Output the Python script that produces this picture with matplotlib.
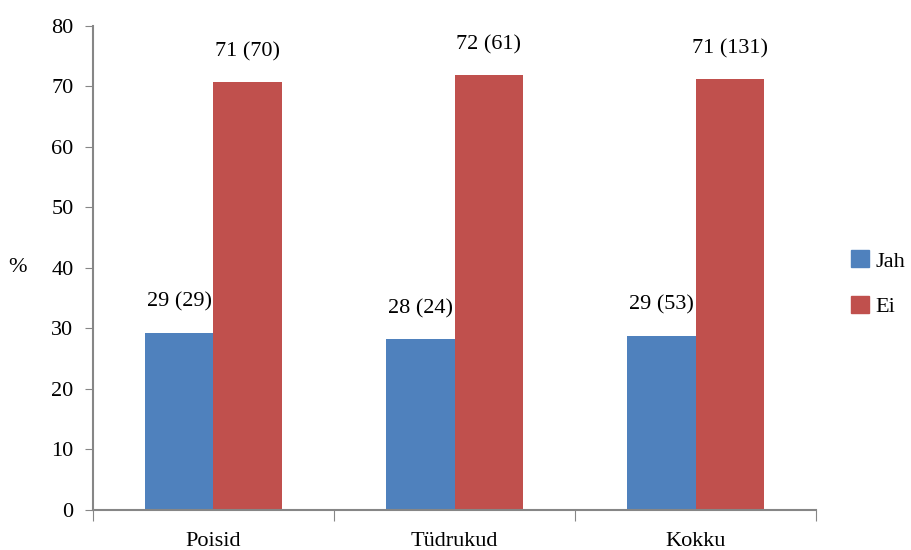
import numpy as np
import matplotlib.pyplot as plt
from matplotlib.patches import Patch

categories = ['Poisid', 'Tüdrukud', 'Kokku']
series = ['Jah', 'Ei']
jah_pct = [29.3, 28.2, 28.8]
ei_pct = [70.7, 71.8, 71.2]
jah_labels = ['29 (29)', '28 (24)', '29 (53)']
ei_labels = ['71 (70)', '72 (61)', '71 (131)']
y_ticks = [0, 10, 20, 30, 40, 50, 60, 70, 80]

BLUE = '#4F81BD'
RED = '#C0504D'
GRAY = '#868686'

plt.rcParams['font.family'] = ['Liberation Serif', 'DejaVu Serif']
FS = 16

fig = plt.figure(figsize=(9.11, 5.5), dpi=100)
ax = fig.add_axes([0.102, 0.073, 0.794, 0.88])

x = np.arange(len(categories))
w = 0.283
b1 = ax.bar(x - w / 2, jah_pct, w, color=BLUE)
b2 = ax.bar(x + w / 2, ei_pct, w, color=RED)

for bars, labels in ((b1, jah_labels), (b2, ei_labels)):
    for rect, lab in zip(bars, labels):
        ax.annotate(lab, (rect.get_x() + rect.get_width() / 2, rect.get_height()),
                    xytext=(0, 15), textcoords='offset points',
                    ha='center', va='bottom', fontsize=FS)

ax.set_xlim(-0.5, len(categories) - 0.5)
ax.set_ylim(0, 80)
ax.set_yticks(y_ticks)
ax.tick_params(axis='y', labelsize=FS, direction='out', length=6, color=GRAY, pad=8)

ax.set_xticks(np.arange(len(categories) + 1) - 0.5)
ax.set_xticklabels([])
ax.set_xticks(x, minor=True)
ax.set_xticklabels(categories, minor=True, fontsize=FS)
ax.tick_params(axis='x', which='major', direction='out', length=8, color=GRAY)
ax.tick_params(axis='x', which='minor', length=0, pad=16)

for s in ('top', 'right'):
    ax.spines[s].set_visible(False)
for s in ('left', 'bottom'):
    ax.spines[s].set_color(GRAY)
    ax.spines[s].set_linewidth(1.5)

ax.set_ylabel('%', rotation=0, fontsize=FS, labelpad=24, va='center')

handles = [Patch(color=BLUE, label=series[0]), Patch(color=RED, label=series[1])]
fig.legend(handles=handles, loc='center left', bbox_to_anchor=(0.934, 0.484),
           frameon=False, fontsize=FS, handlelength=0.8, handleheight=0.8,
           handletextpad=0.3, labelspacing=1.1, borderpad=0, borderaxespad=0)

plt.savefig('out.png', dpi=100)
